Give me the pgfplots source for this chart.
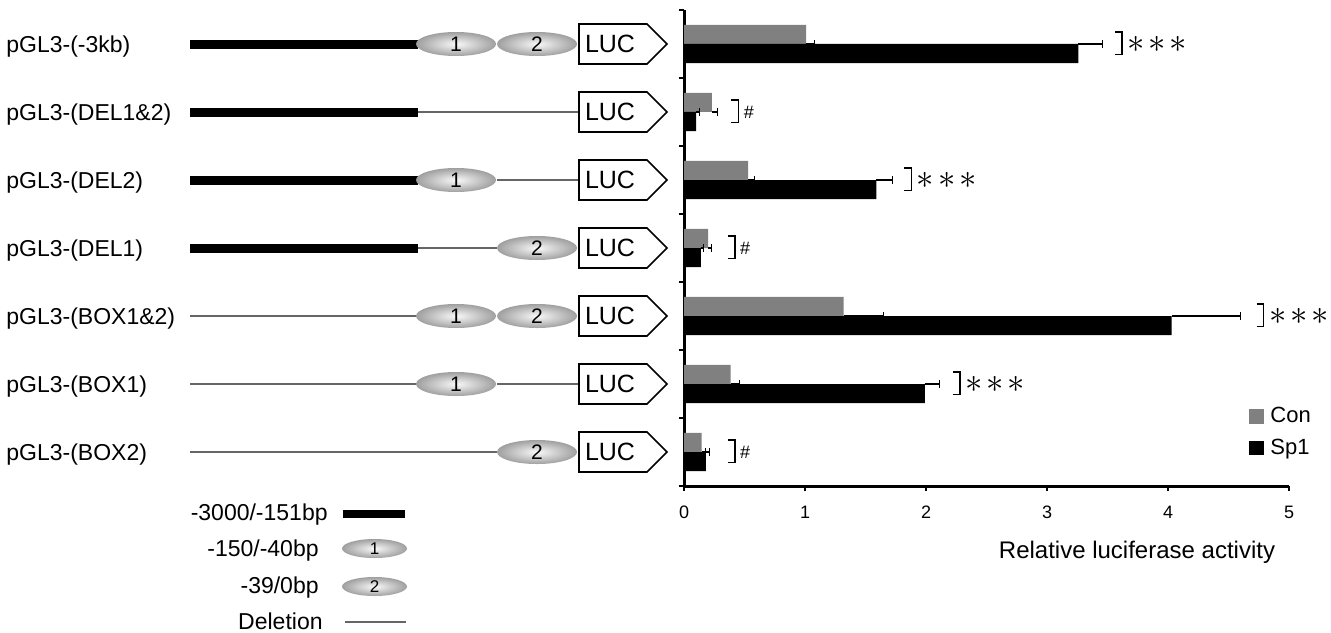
\documentclass[border=0pt]{standalone}
\usepackage{pgfplots}
\pgfplotsset{compat=1.18}
\usepackage{fontspec}
\setmainfont{Liberation Sans}
\newcommand\lab{\fontsize{11.5}{13}\selectfont}
\newcommand\stars{{\fontsize{16}{16}\selectfont$\ast\mkern-2mu\ast\mkern-2mu\ast$}}
\newcommand\hash{{\fontsize{9}{9}\selectfont\#}}
\newcommand\brk[3]{\draw[line width=0.8pt] (axis cs:#1,#2) ++(-3.5pt,6pt) -- ++(3.5pt,0pt) -- ++(0pt,-11.25pt) -- ++(-3.5pt,0pt);
  \node[anchor=west, inner sep=0pt, xshift=2.5pt] at (axis cs:#1,#2) {#3};}
\newcommand\ellA[3]{\shade[inner color=gray!5, outer color=gray!75] (axis cs:#1,#2) ellipse [x radius=20pt, y radius=6pt];
  \node[font=\fontsize{10.5}{10.5}\selectfont, inner sep=0pt] at (axis cs:#1,#2) {#3};}
\newcommand\ellB[3]{\shade[inner color=gray!5, outer color=gray!75] (axis cs:#1,#2) ellipse [x radius=16.25pt, y radius=4.75pt];
  \node[font=\fontsize{8.5}{8.5}\selectfont, inner sep=0pt] at (axis cs:#1,#2) {#3};}
\newcommand\luc[1]{\draw[line width=0.8pt, fill=white] (axis cs:579,#1) ++(0pt,10pt) -- ++(34pt,0pt) -- ++(10pt,-10pt) -- ++(-10pt,-10pt) -- ++(-34pt,0pt) -- cycle;
  \node[font=\fontsize{12.5}{12.5}\selectfont, inner sep=0pt] at (axis cs:610,#1) {LUC};}
\newcommand\rowlab[2]{\node[font=\lab, inner sep=0pt, anchor=base west] at (axis cs:6,#1) [yshift=-4pt] {#2};}
\pgfplotsset{sqlegend/.style={legend image code/.code={\fill[##1] (0pt,-3.7pt) rectangle (7.5pt,3.7pt);}}}
\begin{document}
\begin{tikzpicture}
\path[use as bounding box] (0,0) rectangle (665.5pt,316pt);
% ---------- construct diagram (pixel coordinates) ----------
\begin{axis}[at={(0pt,0pt)}, anchor=south west, width=665.5pt, height=316pt, scale only axis,
  xmin=0, xmax=1331, ymin=0, ymax=632, y dir=reverse, hide axis, clip=false]
% row 1
\addplot[black, line width=4.5pt] coordinates {(190,44) (418,44)};
% row 2
\addplot[black, line width=4.5pt] coordinates {(190,112) (418,112)};
\addplot[black!60, line width=1pt] coordinates {(418,112) (579,112)};
% row 3
\addplot[black, line width=4.5pt] coordinates {(190,180) (418,180)};
\addplot[black!60, line width=1pt] coordinates {(497,180) (579,180)};
% row 4
\addplot[black, line width=4.5pt] coordinates {(190,248) (418,248)};
\addplot[black!60, line width=1pt] coordinates {(418,248) (497,248)};
% row 5
\addplot[black!60, line width=1pt] coordinates {(190,316) (418,316)};
% row 6
\addplot[black!60, line width=1pt] coordinates {(190,384) (418,384)};
\addplot[black!60, line width=1pt] coordinates {(497,384) (579,384)};
% row 7
\addplot[black!60, line width=1pt] coordinates {(190,452) (497,452)};
% legend lines
\addplot[black, line width=4pt] coordinates {(343,514) (405,514)};
\addplot[black!60, line width=1pt] coordinates {(345,622) (406,622)};
\ellA{456}{44}{1}\ellA{537}{44}{2}
\ellA{456}{180}{1}
\ellA{537}{248}{2}
\ellA{456}{316}{1}\ellA{537}{316}{2}
\ellA{456}{384}{1}
\ellA{537}{452}{2}
\luc{44}\luc{112}\luc{180}\luc{248}\luc{316}\luc{384}\luc{452}
\rowlab{44}{pGL3-(-3kb)}
\rowlab{112}{pGL3-(DEL1\&2)}
\rowlab{180}{pGL3-(DEL2)}
\rowlab{248}{pGL3-(DEL1)}
\rowlab{316}{pGL3-(BOX1\&2)}
\rowlab{384}{pGL3-(BOX1)}
\rowlab{452}{pGL3-(BOX2)}
\ellB{374.5}{548.5}{1}
\ellB{374.5}{586.5}{2}
\node[font=\lab, inner sep=0pt, anchor=base east] at (axis cs:328,520) {-3000/-151bp};
\node[font=\lab, inner sep=0pt, anchor=base east] at (axis cs:319,556) {-150/-40bp};
\node[font=\lab, inner sep=0pt, anchor=base east] at (axis cs:319,593) {-39/0bp};
\node[font=\lab, inner sep=0pt, anchor=base east] at (axis cs:323,629) {Deletion};
\node[font=\fontsize{12}{12}\selectfont, inner sep=0pt, anchor=base] at (axis cs:1137,558.5) {Relative luciferase activity};
\end{axis}
% ---------- bar chart ----------
\begin{axis}[at={(342pt,73pt)}, anchor=south west, width=302.5pt, height=238pt, scale only axis,
  xmin=0, xmax=5, ymin=0.5, ymax=7.5,
  axis lines=left, axis line style={line width=1.5pt,-},
  xtick={0,1,2,3,4,5}, ytick={0.5,1.5,...,7.5}, yticklabels={},
  tick align=outside, major tick length=2.5pt, tick style={line width=1.2pt, black},
  xticklabel style={font=\fontsize{9}{9}\selectfont, yshift=-4pt},
  /pgf/number format/assume math mode=true,
  bar width=0.28, clip=false,
  legend style={at={(axis description cs:0.934,0.172)}, anchor=north west, draw=none, fill=none,
    font=\fontsize{11}{13}\selectfont, row sep=3.5pt, column sep=1.5pt, inner sep=0pt, nodes={inner sep=1.5pt}},
  legend cell align=left,
  error bars/error bar style={line width=0.6pt, black},
  error bars/error mark=|,
  error bars/error mark options={line width=0.6pt, mark size=2pt, black},
  ]
\addplot[xbar, bar shift=0.14, fill=black!50, draw=none, sqlegend,
  error bars/.cd, x dir=plus, x explicit] coordinates {
  (1.01,7) +- (0.07,0)
  (0.23,6) +- (0.045,0)
  (0.53,5) +- (0.05,0)
  (0.20,4) +- (0.025,0)
  (1.32,3) +- (0.33,0)
  (0.385,2) +- (0.075,0)
  (0.145,1) +- (0.035,0)
};
\addlegendentry{Con}
\addplot[xbar, bar shift=-0.14, fill=black, draw=none, sqlegend,
  error bars/.cd, x dir=plus, x explicit] coordinates {
  (3.26,7) +- (0.20,0)
  (0.10,6) +- (0.03,0)
  (1.59,5) +- (0.13,0)
  (0.14,4) +- (0.02,0)
  (4.03,3) +- (0.57,0)
  (1.99,2) +- (0.12,0)
  (0.18,1) +- (0.03,0)
};
\addlegendentry{Sp1}
\brk{3.62}{7}{\stars}
\brk{0.45}{6}{\hash}
\brk{1.88}{5}{\stars}
\brk{0.42}{4}{\hash}
\brk{4.79}{3}{\stars}
\brk{2.28}{2}{\stars}
\brk{0.42}{1}{\hash}
\end{axis}
\end{tikzpicture}
\end{document}
